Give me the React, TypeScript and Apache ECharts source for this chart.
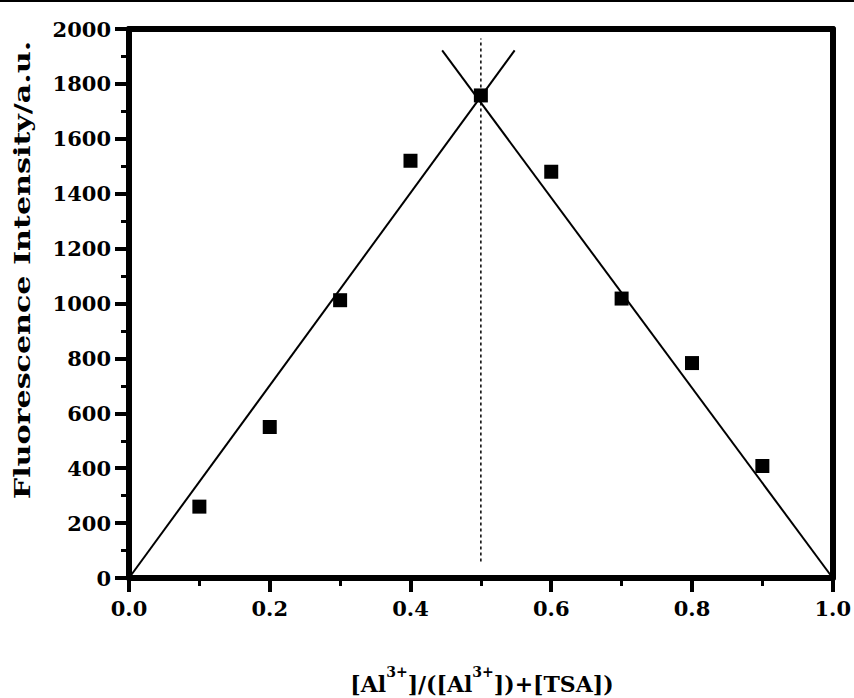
import React, { useEffect, useRef } from "react";
import * as echarts from "echarts";

const xValues = [0.1, 0.2, 0.3, 0.4, 0.5, 0.6, 0.7, 0.8, 0.9];
const intensity = [260, 550, 1012, 1520, 1758, 1480, 1018, 783, 408];
const leftFit = [[0, 0], [0.548, 1922]];
const rightFit = [[0.445, 1922], [1.0, 0]];
const guideLine = [[0.5, 60], [0.5, 1965]];

const FONT = "DejaVu Serif";

export default function App() {
  const ref = useRef<HTMLDivElement>(null);
  useEffect(() => {
    if (!ref.current) return;
    const chart = echarts.init(ref.current, null, { renderer: "svg" });
    const tickLabel = { fontFamily: FONT, fontWeight: "bold", fontSize: 21, color: "#000" };
    chart.setOption({
      animation: false,
      backgroundColor: "#fff",
      grid: { left: 129, right: 20, top: 29, bottom: 120 },
      xAxis: [
        {
          type: "value", min: 0, max: 1, interval: 0.2,
          axisLine: { show: true, onZero: false, lineStyle: { color: "#000", width: 6 } },
          axisTick: { show: true, inside: false, length: 14, lineStyle: { color: "#000", width: 4 } },
          minorTick: { show: true, splitNumber: 2, length: 8, lineStyle: { color: "#000", width: 3 } },
          splitLine: { show: false },
          axisLabel: { ...tickLabel, margin: 20, formatter: (v: number) => v.toFixed(1) },
        },
        {
          type: "value", position: "top", min: 0, max: 1,
          axisLine: { show: true, onZero: false, lineStyle: { color: "#000", width: 6 } },
          axisTick: { show: false }, axisLabel: { show: false }, splitLine: { show: false },
        },
      ],
      yAxis: [
        {
          type: "value", min: 0, max: 2000, interval: 200,
          axisLine: { show: true, onZero: false, lineStyle: { color: "#000", width: 6 } },
          axisTick: { show: true, inside: false, length: 14, lineStyle: { color: "#000", width: 4 } },
          minorTick: { show: true, splitNumber: 2, length: 8, lineStyle: { color: "#000", width: 3 } },
          splitLine: { show: false },
          axisLabel: { ...tickLabel, margin: 18, formatter: (v: number) => String(v) },
        },
        {
          type: "value", position: "right", min: 0, max: 2000,
          axisLine: { show: true, onZero: false, lineStyle: { color: "#000", width: 6 } },
          axisTick: { show: false }, axisLabel: { show: false }, splitLine: { show: false },
        },
      ],
      series: [
        {
          type: "line", data: leftFit, showSymbol: false, symbol: "none",
          lineStyle: { color: "#000", width: 2 }, z: 2,
        },
        {
          type: "line", data: rightFit, showSymbol: false, symbol: "none",
          lineStyle: { color: "#000", width: 2 }, z: 2,
        },
        {
          type: "line", data: guideLine, showSymbol: false, symbol: "none",
          lineStyle: { color: "#000", width: 1.5, type: [3, 3] }, z: 2,
        },
        {
          type: "scatter", data: xValues.map((x, i) => [x, intensity[i]]),
          symbol: "rect", symbolSize: 14, itemStyle: { color: "#000", opacity: 1 }, z: 3,
        },
      ],
      graphic: [
        { type: "line", shape: { x1: 0, y1: 1, x2: 854, y2: 1 }, style: { stroke: "#000", lineWidth: 2 } },
        {
          type: "text", x: 22, y: 270, rotation: Math.PI / 2, scaleX: 1.37,
          style: {
            text: "Fluorescence Intensity/a.u.", fontFamily: FONT, fontWeight: "bold", fontSize: 22,
            fill: "#000", align: "center", verticalAlign: "middle",
          },
        },
        {
          type: "text", x: 482, y: 680,
          style: {
            text: "{n|[Al}{s|3+}{n|]/([Al}{s|3+}{n|])+[TSA])}",
            align: "center", verticalAlign: "middle",
            rich: {
              n: { fontFamily: FONT, fontWeight: "bold", fontSize: 22, fill: "#000", lineHeight: 30, verticalAlign: "bottom" },
              s: { fontFamily: FONT, fontWeight: "bold", fontSize: 14, fill: "#000", lineHeight: 30, verticalAlign: "top" },
            },
          },
        },
      ],
    });
    return () => chart.dispose();
  }, []);
  return <div ref={ref} style={{ position: "absolute", left: 0, top: 0, width: 854, height: 698 }} />;
}
